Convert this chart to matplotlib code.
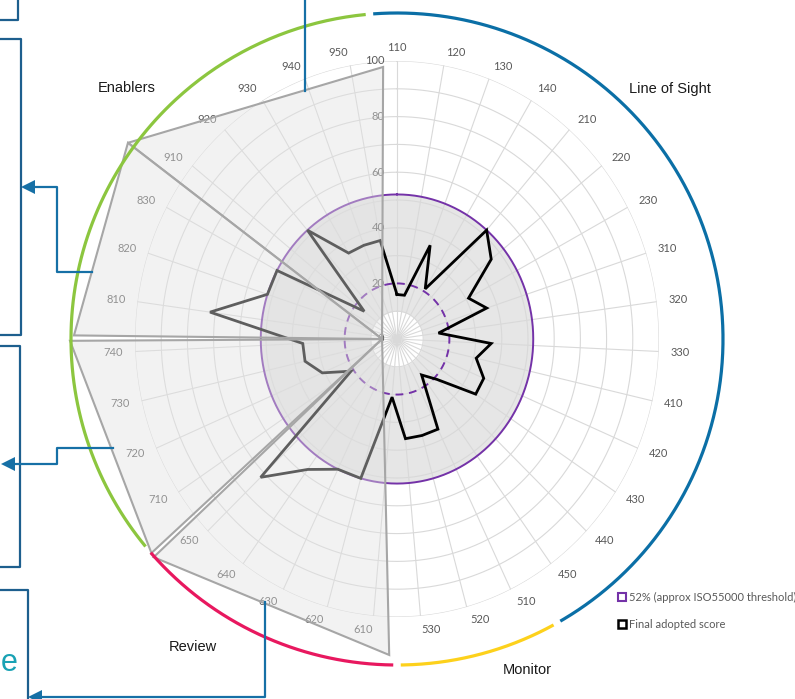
import numpy as np
import matplotlib
matplotlib.use('Agg')
import matplotlib.pyplot as plt
from matplotlib.patches import Polygon, Rectangle

# ---- data ----
categories = ['110', '120', '130', '140', '210', '220', '230', '310', '320', '330',
              '410', '420', '430', '440', '450', '510', '520', '530',
              '610', '620', '630', '640', '650', '710', '720', '730', '740',
              '810', '820', '830', '910', '920', '930', '940', '950']
final_score = [16, 16, 36, 21, 52, 46, 31, 36, 16, 36, 31, 36, 36, 21, 16, 36, 36, 36,
               21, 52, 52, 58, 72, 21, 31, 36, 36, 72, 52, 52, 16, 52, 36, 36, 36]
threshold = 52
inner_ring = 20
hole = 10
radial_ticks = [0, 20, 40, 60, 80, 100]

sections = ['Line of Sight', 'Monitor', 'Review', 'Enablers']
section_sizes = [15, 3, 5, 12]
section_colors = ['#0b6fa6', '#fdd11c', '#e8185f', '#8cc63f']

# shaded wedges laid over the Review / Enablers half (theta deg, r)
overlay_apex = (270.0, 5.7)
overlay_wedges = [
    [(356.9, 98.0), (304.5, 124.6)],
    [(304.5, 124.6), (270.6, 123.3)],
    [(269.7, 124.8), (230.6, 121.3)],
    [(229.8, 121.6), (181.5, 113.7)],
]

legend_labels = ['52% (approx ISO55000 threshold)', 'Final adopted score']

W, H = 795, 699
purple = '#7432a8'
grid_c = '#d9d9d9'
num_font = 'Lato'

fig = plt.figure(figsize=(W / 100, H / 100), dpi=100)

# radar is squashed horizontally in the reference, so the polar box is not square
cx, cy = 397, 339
rx, ry = 262, 278
ax = fig.add_axes([(cx - rx) / W, (H - cy - ry) / H, 2 * rx / W, 2 * ry / H],
                  projection='polar')
ax.set_aspect('auto')
ax.set_theta_zero_location('N')
ax.set_theta_direction(-1)
ax.set_ylim(0, 100)
ax.axis('off')

n = len(categories)
theta = np.arange(n) * 2 * np.pi / n
ring_t = np.linspace(0, 2 * np.pi, 721)

# threshold band
ax.fill_between(ring_t, hole, threshold, color='#e6e6e6', lw=0, zorder=1)

# grid
for v in range(10, 101, 10):
    ax.plot(ring_t, np.full_like(ring_t, v), color=grid_c, lw=0.8, zorder=2)
for t in theta:
    ax.plot([t, t], [0, 100], color=grid_c, lw=0.8, zorder=2)

ax.plot(ring_t, np.full_like(ring_t, threshold), color=purple, lw=1.4, zorder=3)
ax.plot(ring_t, np.full_like(ring_t, inner_ring), color=purple, lw=1.4,
        ls=(0, (4, 3)), zorder=3)

ts = np.append(theta, theta[0])
sc = np.append(final_score, final_score[0])
ax.plot(ts, sc, color='black', lw=2.0, zorder=4, solid_joinstyle='miter')

# category labels
for lbl, t in zip(categories, theta):
    s, c = np.sin(t), np.cos(t)
    ha = 'left' if s > 0.05 else ('right' if s < -0.05 else 'center')
    ax.annotate(lbl, xy=(t, 100), xytext=(12 * s * 0.72, 13.5 * c * 0.72),
                textcoords='offset points', ha=ha, va='center', fontsize=8,
                color='#595959', family=num_font, annotation_clip=False, zorder=3)
for v in radial_ticks:
    ax.annotate(str(v), xy=(0, v), xytext=(-9, 0), textcoords='offset points',
                ha='right', va='center', fontsize=8, color='#595959',
                family=num_font, annotation_clip=False, zorder=3)

# overlay wedges
apex = (np.deg2rad(overlay_apex[0]), overlay_apex[1])
for (t1, r1), (t2, r2) in overlay_wedges:
    pts = [apex, (np.deg2rad(t1), r1), (np.deg2rad(t2), r2)]
    ax.add_patch(Polygon(pts, closed=True, facecolor=(0.886, 0.886, 0.886, 0.42),
                         edgecolor='#a6a6a6', lw=1.5, zorder=5, clip_on=False,
                         joinstyle='miter'))

# ---- decoration layer in pixel coords ----
deco = fig.add_axes([0, 0, 1, 1])
deco.set_xlim(0, W)
deco.set_ylim(H, 0)
deco.axis('off')

R = 326
step = 360 / n
edges = np.cumsum([0] + section_sizes) - 0.5
for i, col in enumerate(section_colors):
    a0 = edges[i] * step + 0.7
    a1 = edges[i + 1] * step - 0.7
    a = np.deg2rad(np.linspace(a0, a1, 200))
    # map the radar angle through the horizontal squash
    pa = np.arctan2(rx * np.sin(a), ry * np.cos(a))
    pa = np.unwrap(pa)
    deco.plot(cx + R * np.sin(pa), cy - R * np.cos(pa), color=col, lw=2.3,
              solid_capstyle='butt')

label_pos = {'Line of Sight': (670, 89), 'Monitor': (527, 670),
             'Review': (193, 647), 'Enablers': (127, 88)}
for name in sections:
    x, y = label_pos[name]
    deco.text(x, y, name, ha='center', va='center', fontsize=10.5,
              family='Liberation Sans', color='#1a1a1a')

# callout boxes and arrows running off the left edge
box_c = '#1d5f8e'
arr_c = '#1670a6'
for xs, ys in [([0, 18, 18], [20, 20, 0]),
               ([0, 21, 21, 0], [39, 39, 335, 335]),
               ([0, 20, 20, 0], [346, 346, 567, 567]),
               ([0, 28, 28], [590, 590, 699])]:
    deco.plot(xs, ys, color=box_c, lw=1.6)
deco.plot([305, 305], [0, 91], color=arr_c, lw=1.6)
for xs, ys, tip in [([92, 57, 57, 34], [272, 272, 187, 187], (21, 187)),
                    ([113, 57, 57, 15], [448, 448, 464, 464], (1, 464)),
                    ([265, 265, 42], [602, 697, 697], (28, 697))]:
    deco.plot(xs, ys, color=arr_c, lw=1.6)
    tx, ty = tip
    deco.add_patch(Polygon([(tx, ty), (tx + 14, ty - 7), (tx + 14, ty + 7)],
                           closed=True, color=arr_c, lw=0))
deco.text(1, 663, 'e', ha='left', va='center', fontsize=22, color='#19a2b4',
          family='Liberation Sans')

handles = [Rectangle((0, 0), 1, 1, facecolor='white', edgecolor=purple, lw=1.5),
           Rectangle((0, 0), 1, 1, facecolor='white', edgecolor='black', lw=1.8)]
fig.legend(handles, legend_labels, loc='upper left',
           bbox_to_anchor=(618 / W, 1 - 592 / H), frameon=False,
           prop={'family': num_font, 'size': 8}, labelcolor='#595959',
           handlelength=0.7, handleheight=0.7, handletextpad=0.3,
           labelspacing=1.45, borderpad=0, borderaxespad=0)

fig.savefig('out.png', dpi=100)
